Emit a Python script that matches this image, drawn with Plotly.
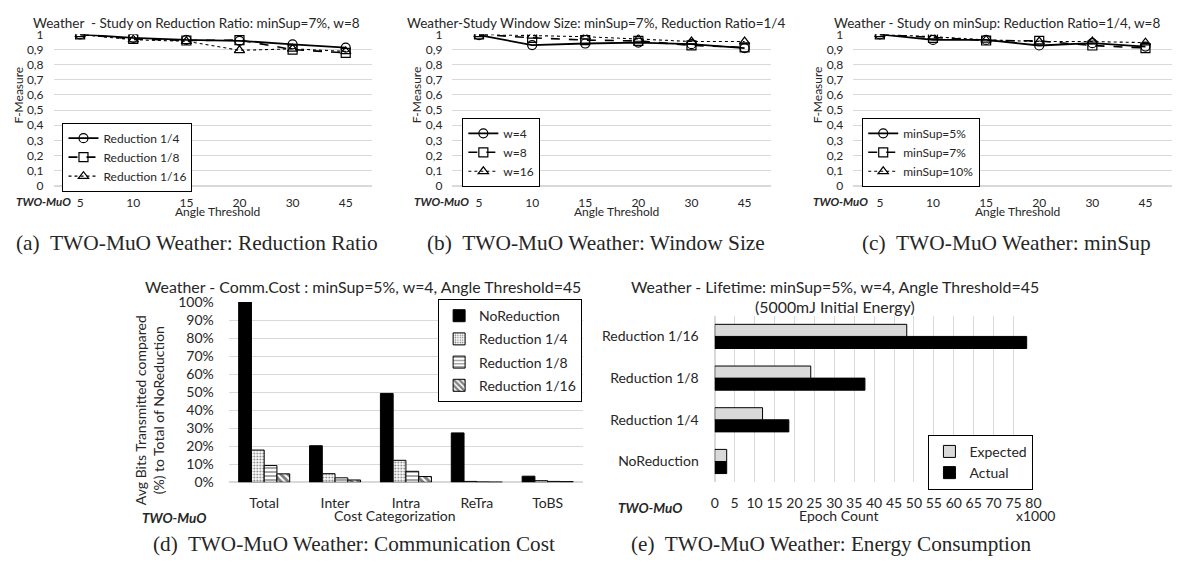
import plotly.graph_objects as go

W, H = 1182, 572          # reference picture size
OFF = 8                   # default body margin of the html page
FW, FH = W - OFF, H - 2 * OFF
FONT = "Lato"
SERIF = "Liberation Serif"

# ---------------- data ----------------
angle_thresholds = ["5", "10", "15", "20", "30", "45"]
fm_ticks = [0, 0.1, 0.2, 0.3, 0.4, 0.5, 0.6, 0.7, 0.8, 0.9, 1.0]
fm_ticktext = ["0", "0,1", "0,2", "0,3", "0,4", "0,5", "0,6", "0,7", "0,8", "0,9", "1"]

# (a) reduction ratio
a_names = ["Reduction 1/4", "Reduction 1/8", "Reduction 1/16"]
a_r4 = [1.0, 0.978, 0.964, 0.958, 0.935, 0.913]
a_r8 = [1.0, 0.970, 0.960, 0.963, 0.900, 0.878]
a_r16 = [1.0, 0.965, 0.955, 0.895, 0.905, 0.888]

# (b) window size
b_names = ["w=4", "w=8", "w=16"]
b_w4 = [0.995, 0.930, 0.940, 0.946, 0.936, 0.910]
b_w8 = [1.0, 0.978, 0.963, 0.957, 0.928, 0.914]
b_w16 = [1.0, 0.990, 0.985, 0.970, 0.953, 0.953]

# (c) minSup
c_names = ["minSup=5%", "minSup=7%", "minSup=10%"]
c_s5 = [1.0, 0.964, 0.964, 0.927, 0.942, 0.920]
c_s7 = [1.0, 0.978, 0.960, 0.957, 0.927, 0.910]
c_s10 = [1.0, 0.985, 0.964, 0.953, 0.953, 0.946]

# (d) communication cost
d_cats = ["Total", "Inter", "Intra", "ReTra", "ToBS"]
d_names = ["NoReduction", "Reduction 1/4", "Reduction 1/8", "Reduction 1/16"]
d_noreduction = [100, 20.3, 49.3, 27.4, 3.4]
d_r4 = [17.9, 4.8, 12.2, 0.5, 0.9]
d_r8 = [9.3, 2.5, 6.1, 0.2, 0.5]
d_r16 = [4.7, 1.3, 3.2, 0.1, 0.4]
d_ticks = [0, 10, 20, 30, 40, 50, 60, 70, 80, 90, 100]
d_ticktext = ["0%", "10%", "20%", "30%", "40%", "50%", "60%", "70%", "80%", "90%", "100%"]

# (e) lifetime
e_cats = ["NoReduction", "Reduction 1/4", "Reduction 1/8", "Reduction 1/16"]
e_expected = [3.0, 12.0, 24.1, 48.2]
e_actual = [3.0, 18.6, 37.7, 78.3]
e_ticks = list(range(0, 81, 5))


def X(px):
    return (px - OFF) / FW


def Y(py):
    return 1 - (py - OFF) / FH


fig = go.Figure()

line_styles = [("solid", 1.8, "circle-open"), ("dash", 1.6, "square-open"), ("dot", 1.1, "triangle-up-open")]

panels = [
    ("x", "y", "legend", a_names, [a_r4, a_r8, a_r16]),
    ("x2", "y2", "legend2", b_names, [b_w4, b_w8, b_w16]),
    ("x3", "y3", "legend3", c_names, [c_s5, c_s7, c_s10]),
]
for xa, ya, lg, names, series in panels:
    for name, vals, (dash, lw, sym) in zip(names, series, line_styles):
        fig.add_trace(go.Scatter(
            x=angle_thresholds, y=vals, name=name, mode="lines+markers",
            line=dict(color="black", width=lw, dash=dash),
            marker=dict(symbol=sym, size=9, color="black", line=dict(width=1.2, color="black")),
            xaxis=xa, yaxis=ya, legend=lg,
        ))

# (d) bars
d_series = [d_noreduction, d_r4, d_r8, d_r16]
d_patterns = [
    dict(shape="", fgcolor="black", bgcolor="black"),
    dict(shape=".", fgcolor="black", bgcolor="white", size=3, solidity=0.3),
    dict(shape="-", fgcolor="black", bgcolor="white", size=4, solidity=0.35),
    dict(shape="\\", fgcolor="black", bgcolor="white", size=5, solidity=0.6),
]
for name, vals, pat in zip(d_names, d_series, d_patterns):
    fig.add_trace(go.Bar(
        x=d_cats, y=vals, name=name, xaxis="x4", yaxis="y4", legend="legend4",
        legendgroup=name,
        marker=dict(color="black" if name == "NoReduction" else "white",
                    pattern=pat, line=dict(color="black", width=1)),
    ))

# (e) bars
bw = 0.29
fig.add_trace(go.Bar(
    y=e_cats, x=e_actual, name="Actual", orientation="h", xaxis="x5", yaxis="y5",
    legend="legend5", legendrank=2, width=bw, offset=-bw,
    marker=dict(color="black", line=dict(color="black", width=1)),
))
fig.add_trace(go.Bar(
    y=e_cats, x=e_expected, name="Expected", orientation="h", xaxis="x5", yaxis="y5",
    legend="legend5", legendrank=1, width=bw, offset=0,
    marker=dict(color="#d9d9d9", line=dict(color="black", width=1)),
))

GRID = "#d9d9d9"
TXT = "#262626"
tick_font = dict(family=FONT, size=12, color=TXT)
top_y = (Y(182), Y(26))


def top_x(domain_px):
    return dict(domain=[X(domain_px[0]), X(domain_px[1])], type="category",
                range=[-0.5, 5.5], showgrid=False, showline=False, zeroline=False,
                ticks="", tickfont=tick_font, ticklabelstandoff=8, fixedrange=True)


def top_yax(anchor):
    return dict(domain=list(top_y), range=[0, 1], tickvals=fm_ticks, ticktext=fm_ticktext,
                showgrid=True, gridcolor=GRID, gridwidth=1, zeroline=True, zerolinecolor=GRID,
                showline=False, ticks="", tickfont=tick_font, ticklabelstandoff=9,
                anchor=anchor)


fig.update_layout(
    width=FW, height=FH, margin=dict(l=0, r=0, t=0, b=0),
    paper_bgcolor="white", plot_bgcolor="white",
    font=dict(family=FONT, color=TXT),
    barmode="group", bargap=0.28, bargroupgap=0,
    xaxis=dict(top_x((50, 372)), anchor="y"),
    yaxis=top_yax("x"),
    xaxis2=dict(top_x((453, 775)), anchor="y2"),
    yaxis2=top_yax("x2"),
    xaxis3=dict(top_x((858, 1180)), anchor="y3"),
    yaxis3=top_yax("x3"),
    xaxis4=dict(domain=[X(227), X(585)], anchor="y4", type="category", showgrid=False,
                showline=False, ticks="", tickfont=dict(family=FONT, size=14, color=TXT),
                ticklabelstandoff=11),
    yaxis4=dict(domain=[Y(488), Y(302)], anchor="x4", range=[0, 100], tickvals=d_ticks,
                ticktext=d_ticktext, showgrid=True, gridcolor=GRID, zeroline=True,
                zerolinecolor=GRID, ticks="", tickfont=dict(family=FONT, size=14, color=TXT),
                ticklabelstandoff=14),
    xaxis5=dict(domain=[X(718), X(1040)], anchor="y5", range=[0, 80], tickvals=e_ticks,
                showgrid=True, gridcolor=GRID, zeroline=True, zerolinecolor=GRID, showline=False,
                ticks="", tickfont=dict(family=FONT, size=14, color=TXT), ticklabelstandoff=11),
    yaxis5=dict(domain=[Y(488), Y(316)], anchor="x5", type="category", categoryorder="array",
                categoryarray=e_cats, range=[-0.5, 3.5], showgrid=False, showline=False,
                ticks="", tickfont=dict(family=FONT, size=14, color=TXT), ticklabelstandoff=15),
    showlegend=True,
)


def legend_box(x, y, size=12, gap=0, xanchor="left"):
    return dict(x=X(x), y=Y(y), xanchor=xanchor, yanchor="top", bgcolor="white",
                bordercolor="black", borderwidth=1, font=dict(family=FONT, size=size, color=TXT),
                tracegroupgap=gap, itemwidth=30)


fig.update_layout(
    legend=legend_box(59, 117),
    legend2=legend_box(463, 112),
    legend3=legend_box(867, 112),
    legend4=legend_box(584, 299, 14, 2, "right"),
    legend5=legend_box(1040, 439, 14, 0, "right"),
)

ann = []


def txt(x, y, s, size, family=FONT, angle=0, bold=False, italic=False, xanchor="center"):
    if bold:
        s = "<b>" + s + "</b>"
    if italic:
        s = "<i>" + s + "</i>"
    ann.append(dict(x=X(x), y=Y(y), xref="paper", yref="paper", text=s, showarrow=False,
                    textangle=angle, xanchor=xanchor, yanchor="middle",
                    font=dict(family=family, size=size, color=TXT)))


# top row titles
txt(194, 14, "Weather  - Study on Reduction Ratio: minSup=7%, w=8", 13.5)
txt(598, 14, "Weather-Study Window Size: minSup=7%, Reduction Ratio=1/4", 13.5)
txt(1003, 14, "Weather - Study on minSup: Reduction Ratio=1/4, w=8", 13.5)
for xc in (15, 417, 822):
    txt(xc, 88, "F-Measure", 12, angle=-90)
for xc in (216, 619, 1024):
    txt(xc, 209, "Angle Threshold", 12)
for xl in (10, 412, 815):
    txt(xl, 198, "TWO-MuO", 11.5, bold=True, italic=True, xanchor="left")
txt(195, 241, "(a)  TWO-MuO Weather: Reduction Ratio", 21.4, family=SERIF)
txt(598, 241, "(b)  TWO-MuO Weather: Window Size", 21.4, family=SERIF)
txt(1013, 241, "(c)  TWO-MuO Weather: minSup", 21.4, family=SERIF)

# (d)
txt(363, 286, "Weather - Comm.Cost : minSup=5%, w=4, Angle Threshold=45", 15.9)
txt(147, 414, "Avg Bits Transmitted compared<br>(%) to Total of NoReduction", 14, angle=-90)
txt(395, 522, "Cost Categorization", 14)
txt(137, 525, "TWO-MuO", 13.5, bold=True, italic=True, xanchor="left")
txt(354, 552, "(d)  TWO-MuO Weather: Communication Cost", 21.2, family=SERIF)

# (e)
txt(840, 286, "Weather - Lifetime: minSup=5%, w=4, Angle Threshold=45", 15.9)
txt(840, 307, "(5000mJ Initial Energy)", 15.9)
txt(843, 522, "Epoch Count", 14)
txt(1042, 522, "x1000", 14)
txt(618, 515, "TWO-MuO", 13.5, bold=True, italic=True, xanchor="left")
txt(836, 552, "(e)  TWO-MuO Weather: Energy Consumption", 21.2, family=SERIF)

fig.update_layout(annotations=ann)

fig.write_html("out.html")
